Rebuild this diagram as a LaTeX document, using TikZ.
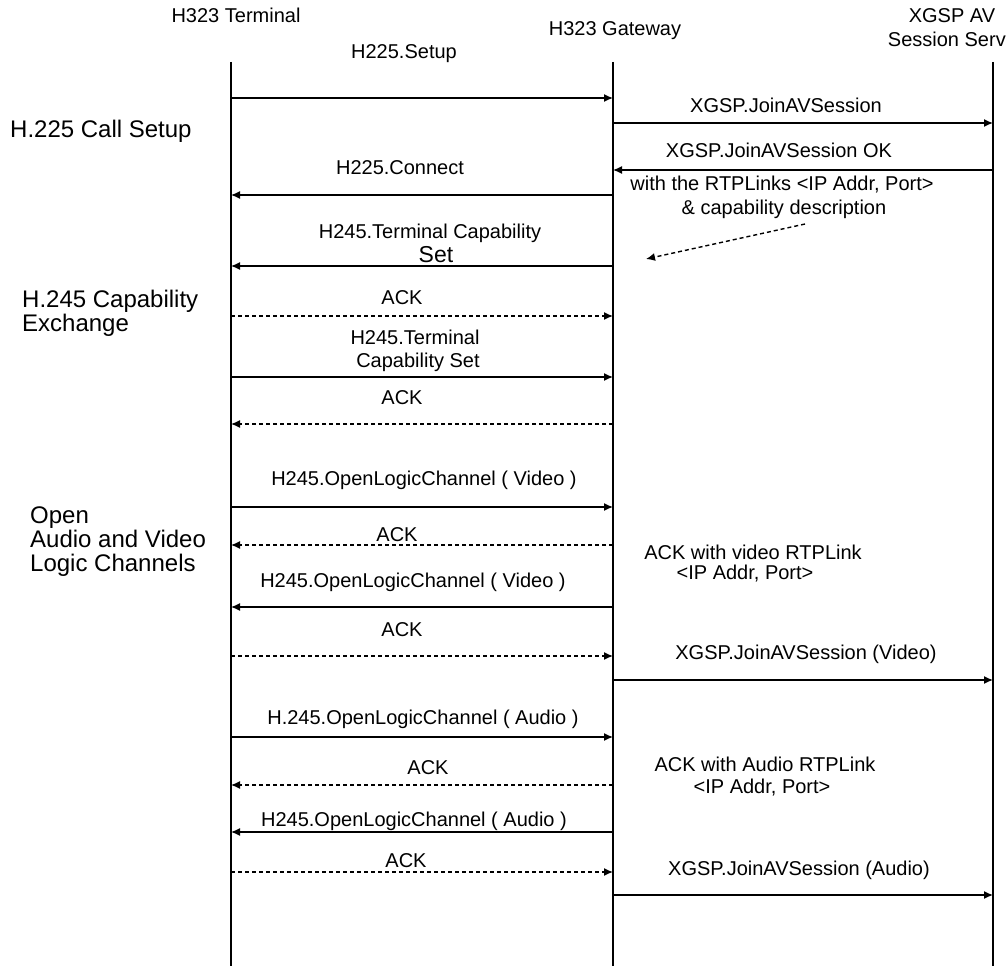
\documentclass[tikz,border=0pt]{standalone}
\usepackage{fontspec}
\setmainfont{Liberation Sans}
\usetikzlibrary{arrows.meta}
\begin{document}
\begin{tikzpicture}[x=1pt,y=-1pt,
  life/.style={line width=1.4pt},
  msg/.style={line width=1.4pt,-{Latex[length=9pt,width=8pt]}},
  ack/.style={msg,dash pattern=on 4pt off 3pt},
  lbl/.style={font=\fontsize{20}{24}\selectfont,inner sep=0pt,align=center},
  big/.style={font=\fontsize{23}{26}\selectfont,inner sep=0pt},
  grp/.style={font=\fontsize{24}{24}\selectfont,inner sep=0pt,anchor=west,align=left},
  ]
\useasboundingbox (0,0) rectangle (1007,966);
% headers
\node[lbl] (hT) at (236,15) {H323 Terminal};
\node[lbl] (hG) at (615,31) {H323 Gateway};
\node[lbl] (hS1) at (952,16) {XGSP AV};
\node[lbl,anchor=east] (hS2) at (1006,39) {Session Serv};
% lifelines
\coordinate (Ttop) at (231,62); \coordinate (Tbot) at (231,966);
\coordinate (Gtop) at (613,62); \coordinate (Gbot) at (613,966);
\coordinate (Stop) at (993,62); \coordinate (Sbot) at (993,966);
\draw[life] (Ttop) -- (Tbot);
\draw[life] (Gtop) -- (Gbot);
\draw[life] (Stop) -- (Sbot);
% group labels
\node[grp] (g1) at (10,131) {H.225 Call Setup};
\node[grp] (g2) at (22,313) {H.245 Capability\\Exchange};
\node[grp] (g3) at (30,542) {Open\\Audio and Video\\Logic Channels};
% message anchor coordinates
\foreach \n/\y in {1/98,4/195,5/266,6/316,7/377,8/424,9/507,10/545,11/607,12/656,14/737,15/785,16/832,17/872}{
  \coordinate (t\n) at (231,\y); \coordinate (g\n) at (613,\y);}
\foreach \n/\y in {2/123,3/170,13/680,18/895}{
  \coordinate (h\n) at (613,\y); \coordinate (s\n) at (993,\y);}
% messages
\draw[msg] (t1) -- (g1);
\node[lbl] (m1) at (404,54) {H225.Setup};
\draw[msg] (h2) -- (s2);
\node[lbl] (m2) at (786,105) {XGSP.JoinAVSession};
\draw[msg] (s3) -- (h3);
\node[lbl] (m3) at (779,150) {XGSP.JoinAVSession OK};
\node[lbl] (m3b) at (782,185) {with the RTPLinks <IP Addr, Port>};
\node[lbl] (m3c) at (784,209) {\& capability description};
\coordinate (d1) at (805,224); \coordinate (d2) at (646,259);
\draw[ack] (d1) -- (d2);
\draw[msg] (g4) -- (t4);
\node[lbl] (m4) at (400,168) {H225.Connect};
\draw[msg] (g5) -- (t5);
\node[lbl] (m5) at (430,233) {H245.Terminal Capability};
\node[big] (m5b) at (436,255) {Set};
\draw[ack] (t6) -- (g6);
\node[lbl] (m6) at (402,298) {ACK};
\draw[msg] (t7) -- (g7);
\node[lbl] (m7) at (415,337) {H245.Terminal};
\node[lbl] (m7b) at (418,362) {Capability Set};
\draw[ack] (g8) -- (t8);
\node[lbl] (m8) at (402,398) {ACK};
\draw[msg] (t9) -- (g9);
\node[lbl] (m9) at (424,480) {H245.OpenLogicChannel ( Video )};
\draw[ack] (g10) -- (t10);
\node[lbl] (m10) at (397,535) {ACK};
\node[lbl] (m10b) at (753,552) {ACK with video RTPLink};
\node[lbl] (m10c) at (745,574) {<IP Addr, Port>};
\draw[msg] (g11) -- (t11);
\node[lbl] (m11) at (413,582) {H245.OpenLogicChannel ( Video )};
\draw[ack] (t12) -- (g12);
\node[lbl] (m12) at (402,630) {ACK};
\draw[msg] (h13) -- (s13);
\node[lbl] (m13) at (806,654) {XGSP.JoinAVSession (Video)};
\draw[msg] (t14) -- (g14);
\node[lbl] (m14) at (423,719) {H.245.OpenLogicChannel ( Audio )};
\draw[ack] (g15) -- (t15);
\node[lbl] (m15) at (428,768) {ACK};
\node[lbl] (m15b) at (765,764) {ACK with Audio RTPLink};
\node[lbl] (m15c) at (762,788) {<IP Addr, Port>};
\draw[msg] (g16) -- (t16);
\node[lbl] (m16) at (414,821) {H245.OpenLogicChannel ( Audio )};
\draw[ack] (t17) -- (g17);
\node[lbl] (m17) at (406,861) {ACK};
\draw[msg] (h18) -- (s18);
\node[lbl] (m18) at (799,870) {XGSP.JoinAVSession (Audio)};
\end{tikzpicture}
\end{document}
